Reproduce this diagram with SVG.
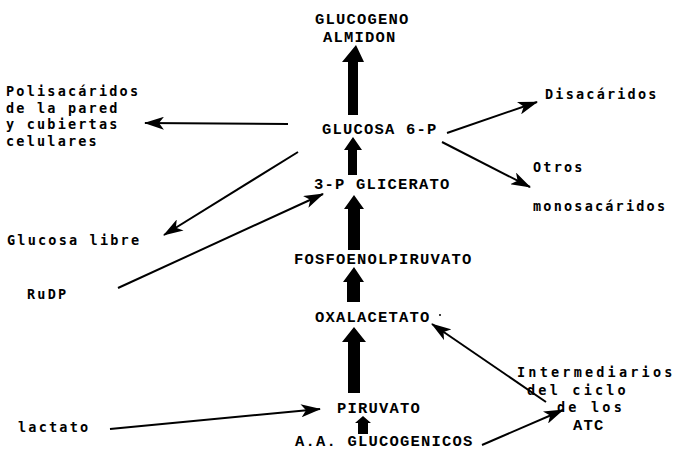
<svg xmlns="http://www.w3.org/2000/svg" width="682" height="452" viewBox="0 0 682 452">
<defs>
<style>
.u{font-family:"Liberation Mono","DejaVu Sans Mono",monospace;font-weight:bold;font-size:15.5px;letter-spacing:1.2px;fill:#000}
.l{font-family:"DejaVu Sans Mono","Liberation Mono",monospace;font-weight:bold;font-size:13.5px;letter-spacing:2.2px;fill:#000}
.w{letter-spacing:3.2px}
.c line{stroke:#000;stroke-width:2;fill:none}
.b{fill:#000}
</style>
<marker id="ah" viewBox="0 0 20 13" refX="19" refY="6.5" markerWidth="20" markerHeight="13" markerUnits="userSpaceOnUse" orient="auto">
<path d="M0,0 L20,6.5 L0,13 L5,6.5 Z" fill="#000"/>
</marker>
</defs>
<rect width="682" height="452" fill="#fff"/>
<g id="glucogeno"><text class="u" x="315" y="24">GLUCOGENO</text><text class="u" x="323" y="42">ALMIDON</text></g>
<g id="glucosa6p"><text class="u" x="322" y="134">GLUCOSA 6-P</text></g>
<g id="glicerato"><text class="u" x="314" y="189">3-P GLICERATO</text></g>
<g id="fosfoenolpiruvato"><text class="u" x="294" y="264">FOSFOENOLPIRUVATO</text></g>
<g id="oxalacetato"><text class="u" x="315" y="322">OXALACETATO</text><circle cx="440" cy="315" r="1" fill="#000"/></g>
<g id="piruvato"><text class="u" x="337" y="413">PIRUVATO</text></g>
<g id="aaglucogenicos"><text class="u" x="295" y="446">A.A. GLUCOGENICOS</text></g>
<g id="polisacaridos"><text class="l" x="6" y="96">Polisacáridos</text><text class="l" x="6" y="112.5">de la pared</text><text class="l" x="6" y="129">y cubiertas</text><text class="l" x="6" y="145.5">celulares</text></g>
<g id="glucosalibre"><text class="l" x="7" y="245">Glucosa libre</text></g>
<g id="rudp"><text class="l" x="27" y="299">RuDP</text></g>
<g id="lactato"><text class="l" x="18" y="432">lactato</text></g>
<g id="disacaridos"><text class="l" x="545" y="99">Disacáridos</text></g>
<g id="otros"><text class="l" x="533" y="172">Otros</text><text class="l" x="533" y="211">monosacáridos</text></g>
<g id="intermediarios"><text class="l w" x="517" y="377">Intermediarios</text><text class="l w" x="527" y="395">del ciclo</text><text class="l w" x="557" y="412">de los</text><text class="u" x="573" y="430">ATC</text></g>
<g id="connectors" class="c">
<line x1="288" y1="124" x2="145" y2="123" marker-end="url(#ah)"/>
<line x1="298" y1="152" x2="164" y2="235" marker-end="url(#ah)"/>
<line x1="118" y1="288" x2="323" y2="194" marker-end="url(#ah)"/>
<line x1="447" y1="133" x2="537" y2="102" marker-end="url(#ah)"/>
<line x1="442" y1="142" x2="530" y2="187" marker-end="url(#ah)"/>
<line x1="110" y1="429" x2="320" y2="409" marker-end="url(#ah)"/>
<line x1="546" y1="402" x2="432" y2="324" marker-end="url(#ah)"/>
<line x1="482" y1="445" x2="563" y2="410" marker-end="url(#ah)"/>
<polygon class="b" points="356,45 364,62 358,62 358,115 348,115 348,62 342,62"/>
<polygon class="b" points="353,137 362,150 357,150 357,175 348,175 348,150 344,150"/>
<polygon class="b" points="354,195 364,209 360,209 360,250 348,250 348,209 344,209"/>
<polygon class="b" points="354,267 364,282 360,282 360,302 347,302 347,282 343,282"/>
<polygon class="b" points="354,327 366,342 360,342 360,393 348,393 348,342 342,342"/>
<polygon class="b" points="363,416 371,423 368,423 368,434 358,434 358,423 355,423"/>
</g>
</svg>
